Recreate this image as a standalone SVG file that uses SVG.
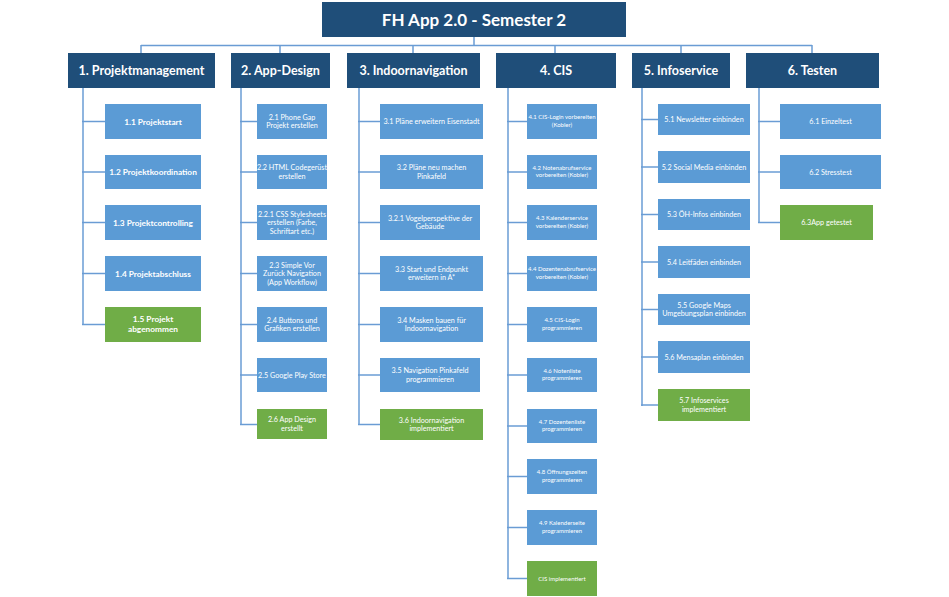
<svg xmlns="http://www.w3.org/2000/svg" width="949" height="597" viewBox="0 0 949 597">
<style>
.dk{fill:#1F4E79}
.bl{fill:#5B9BD5}
.gr{fill:#70AD47}
.t{font-family:Lato,"Open Sans","Liberation Sans",sans-serif;fill:#FFFFFF;text-anchor:middle}
.h0{font-size:17px;font-weight:bold}
.h1{font-size:12.5px;font-weight:bold}
.c1{font-size:8.3px;font-weight:bold}
.s7{font-size:7.2px}
.s6{font-size:6px}
.cn line{stroke:#6A9CD4;stroke-width:1.5;fill:none}
</style>
<rect width="949" height="597" fill="#FFFFFF"/>
<g id="connectors" class="cn">
<line x1="474" y1="37" x2="474" y2="45.5"/>
<line x1="141" y1="45.5" x2="812" y2="45.5"/>
<line x1="141" y1="45" x2="141" y2="53"/>
<line x1="280" y1="45" x2="280" y2="53"/>
<line x1="413" y1="45" x2="413" y2="53"/>
<line x1="555" y1="45" x2="555" y2="53"/>
<line x1="681" y1="45" x2="681" y2="53"/>
<line x1="812" y1="45" x2="812" y2="53"/>
<line x1="83" y1="88" x2="83" y2="325"/>
<line x1="82" y1="121.5" x2="105" y2="121.5"/>
<line x1="82" y1="172" x2="105" y2="172"/>
<line x1="82" y1="222.5" x2="105" y2="222.5"/>
<line x1="82" y1="273.5" x2="105" y2="273.5"/>
<line x1="82" y1="324.5" x2="105" y2="324.5"/>
<line x1="241" y1="88" x2="241" y2="425"/>
<line x1="240" y1="121.5" x2="257" y2="121.5"/>
<line x1="240" y1="172" x2="257" y2="172"/>
<line x1="240" y1="222.5" x2="257" y2="222.5"/>
<line x1="240" y1="273.5" x2="257" y2="273.5"/>
<line x1="240" y1="324.5" x2="257" y2="324.5"/>
<line x1="240" y1="375" x2="257" y2="375"/>
<line x1="240" y1="424.5" x2="257" y2="424.5"/>
<line x1="359" y1="88" x2="359" y2="425"/>
<line x1="358" y1="121.5" x2="380" y2="121.5"/>
<line x1="358" y1="172" x2="380" y2="172"/>
<line x1="358" y1="222.5" x2="380" y2="222.5"/>
<line x1="358" y1="273.5" x2="380" y2="273.5"/>
<line x1="358" y1="324.5" x2="380" y2="324.5"/>
<line x1="358" y1="375" x2="380" y2="375"/>
<line x1="358" y1="424.5" x2="380" y2="424.5"/>
<line x1="508" y1="88" x2="508" y2="579"/>
<line x1="507" y1="121.5" x2="527" y2="121.5"/>
<line x1="507" y1="172" x2="527" y2="172"/>
<line x1="507" y1="222.5" x2="527" y2="222.5"/>
<line x1="507" y1="273.5" x2="527" y2="273.5"/>
<line x1="507" y1="324.5" x2="527" y2="324.5"/>
<line x1="507" y1="375" x2="527" y2="375"/>
<line x1="507" y1="426" x2="527" y2="426"/>
<line x1="507" y1="476.5" x2="527" y2="476.5"/>
<line x1="507" y1="527.5" x2="527" y2="527.5"/>
<line x1="507" y1="578.5" x2="527" y2="578.5"/>
<line x1="642" y1="88" x2="642" y2="406"/>
<line x1="641" y1="119.5" x2="658" y2="119.5"/>
<line x1="641" y1="167" x2="658" y2="167"/>
<line x1="641" y1="214.5" x2="658" y2="214.5"/>
<line x1="641" y1="262" x2="658" y2="262"/>
<line x1="641" y1="309.5" x2="658" y2="309.5"/>
<line x1="641" y1="357" x2="658" y2="357"/>
<line x1="641" y1="405" x2="658" y2="405"/>
<line x1="759" y1="88" x2="759" y2="223"/>
<line x1="758" y1="121.5" x2="780" y2="121.5"/>
<line x1="758" y1="172" x2="780" y2="172"/>
<line x1="758" y1="222.5" x2="780" y2="222.5"/>
</g>
<g id="root"><rect class="dk" x="322" y="2" width="304" height="35"/><text class="t h0" x="474" y="25.5">FH App 2.0 - Semester 2</text></g>
<g id="n1"><rect class="dk" x="68" y="53" width="147" height="35"/><text class="t h1" x="141.5" y="75">1. Projektmanagement</text></g>
<g id="n2"><rect class="dk" x="231" y="53" width="99" height="35"/><text class="t h1" x="280.5" y="75">2. App-Design</text></g>
<g id="n3"><rect class="dk" x="347" y="53" width="133" height="35"/><text class="t h1" x="413.5" y="75">3. Indoornavigation</text></g>
<g id="n4"><rect class="dk" x="496" y="53" width="120" height="35"/><text class="t h1" x="556" y="75">4. CIS</text></g>
<g id="n5"><rect class="dk" x="632" y="53" width="98" height="35"/><text class="t h1" x="681" y="75">5. Infoservice</text></g>
<g id="n6"><rect class="dk" x="746" y="53" width="133" height="35"/><text class="t h1" x="812.5" y="75">6. Testen</text></g>

<g id="n1-1"><rect class="bl" x="105" y="104" width="96" height="35"/><text class="t c1" x="153" y="124.5">1.1 Projektstart</text></g>
<g id="n1-2"><rect class="bl" x="105" y="155" width="96" height="34"/><text class="t c1" x="153" y="175">1.2 Projektkoordination</text></g>
<g id="n1-3"><rect class="bl" x="105" y="205" width="96" height="35"/><text class="t c1" x="153" y="225.5">1.3 Projektcontrolling</text></g>
<g id="n1-4"><rect class="bl" x="105" y="256" width="96" height="35"/><text class="t c1" x="153" y="276.5">1.4 Projektabschluss</text></g>
<g id="n1-5"><rect class="gr" x="105" y="307" width="96" height="35"/><text class="t c1" x="153" y="322"><tspan x="153">1.5 Projekt</tspan><tspan x="153" dy="10">abgenommen</tspan></text></g>

<g id="n2-1"><rect class="bl" x="257" y="104" width="70" height="35"/><text class="t s7" x="292" y="119.5"><tspan x="292">2.1 Phone Gap</tspan><tspan x="292" dy="8.5">Projekt erstellen</tspan></text></g>
<g id="n2-2"><rect class="bl" x="257" y="155" width="70" height="34"/><text class="t s7" x="292" y="170"><tspan x="292">2.2 HTML Codegerüst</tspan><tspan x="292" dy="8.5">erstellen</tspan></text></g>
<g id="n2-3"><rect class="bl" x="257" y="205" width="70" height="35"/><text class="t s7" x="292" y="216.5"><tspan x="292">2.2.1 CSS Stylesheets</tspan><tspan x="292" dy="8.5">erstellen (Farbe,</tspan><tspan x="292" dy="8.5">Schriftart etc.)</tspan></text></g>
<g id="n2-4"><rect class="bl" x="257" y="256" width="70" height="35"/><text class="t s7" x="292" y="267.5"><tspan x="292">2.3 Simple Vor</tspan><tspan x="292" dy="8.5">Zurück Navigation</tspan><tspan x="292" dy="8.5">(App Workflow)</tspan></text></g>
<g id="n2-5"><rect class="bl" x="257" y="307" width="70" height="35"/><text class="t s7" x="292" y="322.5"><tspan x="292">2.4 Buttons und</tspan><tspan x="292" dy="8.5">Grafiken erstellen</tspan></text></g>
<g id="n2-6"><rect class="bl" x="257" y="358" width="70" height="34"/><text class="t s7" x="292" y="377.5">2.5 Google Play Store</text></g>
<g id="n2-7"><rect class="gr" x="257" y="409" width="70" height="30"/><text class="t s7" x="292" y="422"><tspan x="292">2.6 App Design</tspan><tspan x="292" dy="8.5">erstellt</tspan></text></g>

<g id="n3-1"><rect class="bl" x="380" y="104" width="103" height="35"/><text class="t s7" x="431.5" y="124">3.1 Pläne erweitern Eisenstadt</text></g>
<g id="n3-2"><rect class="bl" x="380" y="155" width="103" height="34"/><text class="t s7" x="431.5" y="170"><tspan x="431.5">3.2 Pläne neu machen</tspan><tspan x="431.5" dy="8.5">Pinkafeld</tspan></text></g>
<g id="n3-3"><rect class="bl" x="380" y="205" width="100" height="35"/><text class="t s7" x="430" y="220.5"><tspan x="430">3.2.1 Vogelperspektive der</tspan><tspan x="430" dy="8.5">Gebäude</tspan></text></g>
<g id="n3-4"><rect class="bl" x="380" y="256" width="103" height="35"/><text class="t s7" x="431.5" y="271.5"><tspan x="431.5">3.3 Start und Endpunkt</tspan><tspan x="431.5" dy="8.5">erweitern in A*</tspan></text></g>
<g id="n3-5"><rect class="bl" x="380" y="307" width="103" height="35"/><text class="t s7" x="431.5" y="322.5"><tspan x="431.5">3.4 Masken bauen für</tspan><tspan x="431.5" dy="8.5">Indoornavigation</tspan></text></g>
<g id="n3-6"><rect class="bl" x="380" y="358" width="100" height="34"/><text class="t s7" x="430" y="373"><tspan x="430">3.5 Navigation Pinkafeld</tspan><tspan x="430" dy="8.5">programmieren</tspan></text></g>
<g id="n3-7"><rect class="gr" x="380" y="409" width="103" height="31"/><text class="t s7" x="431.5" y="422.5"><tspan x="431.5">3.6 Indoornavigation</tspan><tspan x="431.5" dy="8.5">implementiert</tspan></text></g>

<g id="n4-1"><rect class="bl" x="527" y="104" width="70" height="35"/><text class="t s6" x="562" y="119"><tspan x="562">4.1 CIS-Login vorbereiten</tspan><tspan x="562" dy="7.5">(Kobler)</tspan></text></g>
<g id="n4-2"><rect class="bl" x="527" y="155" width="70" height="34"/><text class="t s6" x="562" y="169.5"><tspan x="562">4.2 Notenabrufservice</tspan><tspan x="562" dy="7.5">vorbereiten (Kobler)</tspan></text></g>
<g id="n4-3"><rect class="bl" x="527" y="205" width="70" height="35"/><text class="t s6" x="562" y="220"><tspan x="562">4.3 Kalenderservice</tspan><tspan x="562" dy="7.5">vorbereiten (Kobler)</tspan></text></g>
<g id="n4-4"><rect class="bl" x="527" y="256" width="70" height="35"/><text class="t s6" x="562" y="271"><tspan x="562">4.4 Dozentenabrufservice</tspan><tspan x="562" dy="7.5">vorbereiten (Kobler)</tspan></text></g>
<g id="n4-5"><rect class="bl" x="527" y="307" width="70" height="35"/><text class="t s6" x="562" y="322"><tspan x="562">4.5 CIS-Login</tspan><tspan x="562" dy="7.5">programmieren</tspan></text></g>
<g id="n4-6"><rect class="bl" x="527" y="358" width="70" height="34"/><text class="t s6" x="562" y="372.5"><tspan x="562">4.6 Notenliste</tspan><tspan x="562" dy="7.5">programmieren</tspan></text></g>
<g id="n4-7"><rect class="bl" x="527" y="409" width="70" height="34"/><text class="t s6" x="562" y="423.5"><tspan x="562">4.7 Dozentenliste</tspan><tspan x="562" dy="7.5">programmieren</tspan></text></g>
<g id="n4-8"><rect class="bl" x="527" y="459" width="70" height="35"/><text class="t s6" x="562" y="474"><tspan x="562">4.8 Öffnungszeiten</tspan><tspan x="562" dy="7.5">programmieren</tspan></text></g>
<g id="n4-9"><rect class="bl" x="527" y="510" width="70" height="35"/><text class="t s6" x="562" y="525"><tspan x="562">4.9 Kalenderseite</tspan><tspan x="562" dy="7.5">programmieren</tspan></text></g>
<g id="n4-10"><rect class="gr" x="527" y="561" width="70" height="35"/><text class="t s6" x="562" y="580.5">CIS implementiert</text></g>

<g id="n5-1"><rect class="bl" x="658" y="104" width="92" height="31"/><text class="t s7" x="704" y="122">5.1 Newsletter einbinden</text></g>
<g id="n5-2"><rect class="bl" x="658" y="151" width="92" height="32"/><text class="t s7" x="704" y="169.5">5.2 Social Media einbinden</text></g>
<g id="n5-3"><rect class="bl" x="658" y="199" width="92" height="31"/><text class="t s7" x="704" y="217">5.3 ÖH-Infos einbinden</text></g>
<g id="n5-4"><rect class="bl" x="658" y="246" width="92" height="32"/><text class="t s7" x="704" y="264.5">5.4 Leitfäden einbinden</text></g>
<g id="n5-5"><rect class="bl" x="658" y="294" width="92" height="31"/><text class="t s7" x="704" y="307.5"><tspan x="704">5.5 Google Maps</tspan><tspan x="704" dy="8.5">Umgebungsplan einbinden</tspan></text></g>
<g id="n5-6"><rect class="bl" x="658" y="341" width="92" height="32"/><text class="t s7" x="704" y="359.5">5.6 Mensaplan einbinden</text></g>
<g id="n5-7"><rect class="gr" x="658" y="389" width="92" height="32"/><text class="t s7" x="704" y="403"><tspan x="704">5.7 Infoservices</tspan><tspan x="704" dy="8.5">implementiert</tspan></text></g>

<g id="n6-1"><rect class="bl" x="780" y="104" width="101" height="35"/><text class="t s7" x="830.5" y="124">6.1 Einzeltest</text></g>
<g id="n6-2"><rect class="bl" x="780" y="155" width="101" height="34"/><text class="t s7" x="830.5" y="174.5">6.2 Stresstest</text></g>
<g id="n6-3"><rect class="gr" x="780" y="205" width="93" height="35"/><text class="t s7" x="826.5" y="225">6.3App getestet</text></g>
</svg>
